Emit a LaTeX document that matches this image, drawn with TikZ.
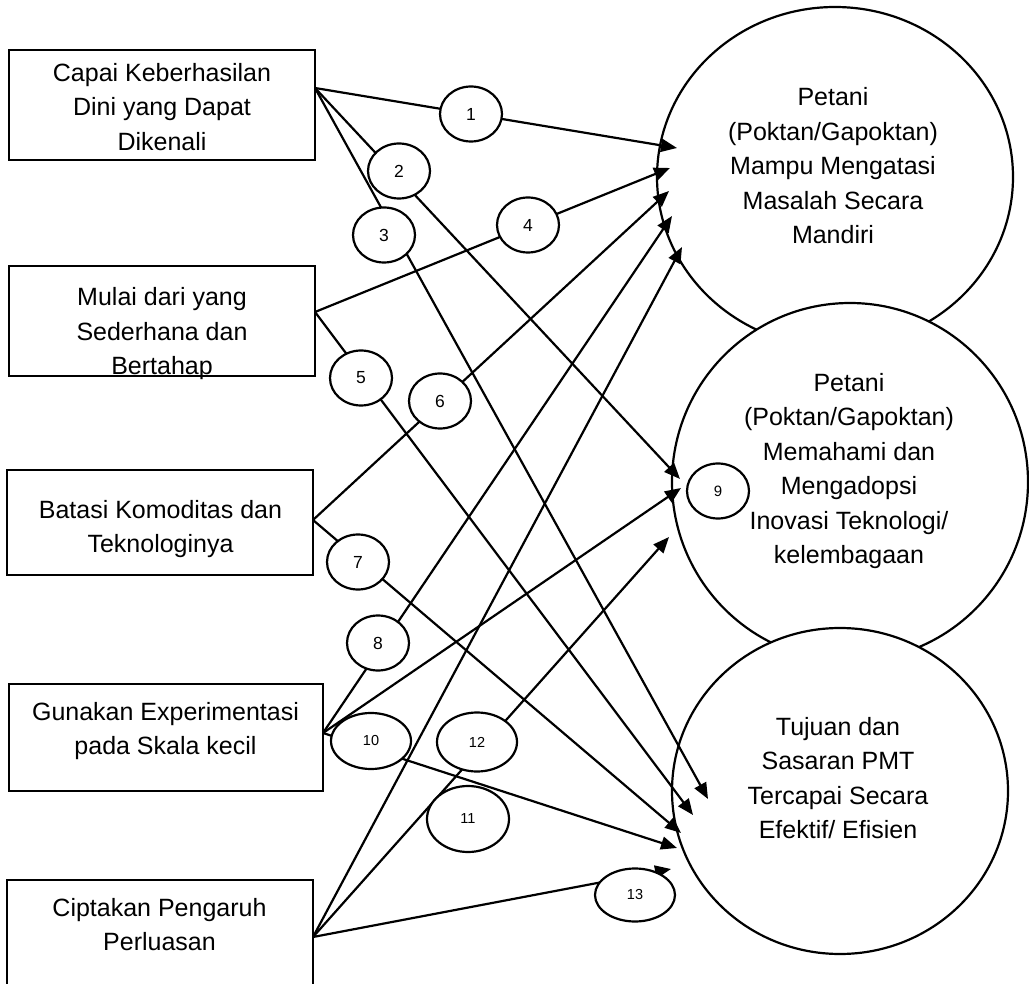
\documentclass[tikz,border=0pt]{standalone}
\usepackage{fontspec}
\setmainfont{Liberation Sans}
\usetikzlibrary{shapes.geometric,arrows.meta}
\begin{document}
\begin{tikzpicture}[x=1pt,y=-1pt,line width=2.2pt,
  box/.style={draw,rectangle,inner sep=0pt},
  boxtext/.style={align=center,inner sep=0pt,font=\fontsize{25}{34.5}\selectfont},
  goal/.style={draw,ellipse,fill=white,inner sep=0pt},
  num/.style={draw,ellipse,fill=white,inner sep=0pt,minimum width=62pt,minimum height=55pt,font=\fontsize{17.5}{20}\selectfont},
  numsmall/.style={num,font=\fontsize{14.5}{17}\selectfont},
  arr/.style={-{Triangle[length=16pt,width=13pt]}}
]
\useasboundingbox (0,0) rectangle (1029,984);
\clip (0,0) rectangle (1029,984);

% principle boxes
\node[box,minimum width=306pt,minimum height=110pt] (b1) at (162,105) {};
\node[box,minimum width=306pt,minimum height=110pt] (b2) at (162,321) {};
\node[box,minimum width=306pt,minimum height=105pt] (b3) at (160,522.5) {};
\node[box,minimum width=314pt,minimum height=107pt] (b4) at (166,737.5) {};
\node[box,minimum width=306pt,minimum height=130pt] (b5) at (160,945) {};
\node[boxtext] (b1t) at (162,107) {Capai Keberhasilan\\Dini yang Dapat\\Dikenali};
\node[boxtext] (b2t) at (162,334) {Mulai dari yang\\Sederhana dan\\Bertahap};
\node[boxtext] (b3t) at (160.5,529) {Batasi Komoditas dan\\Teknologinya};
\node[boxtext] (b4t) at (165.5,731) {Gunakan Experimentasi\\pada Skala kecil};
\node[boxtext] (b5t) at (159.5,924.5) {Ciptakan Pengaruh\\Perluasan};

% outcome circles
\node[goal,minimum width=356pt,minimum height=340pt] (c1) at (835,177) {};
\node[goal,minimum width=356pt,minimum height=358pt] (c2) at (850,482) {};
\node[goal,minimum width=336pt,minimum height=326pt] (c3) at (840,791) {};
\node[boxtext] (c1t) at (833,166) {Petani\\(Poktan/Gapoktan)\\Mampu Mengatasi\\Masalah Secara\\Mandiri};
\node[boxtext] (c2t) at (849,471) {Petani\\(Poktan/Gapoktan)\\Memahami dan\\Mengadopsi\\Inovasi Teknologi/\\kelembagaan};
\node[boxtext] (c3t) at (838,778) {Tujuan dan\\Sasaran PMT\\Tercapai Secara\\Efektif/ Efisien};

% connector ends on the box sides
\coordinate (s1) at (315,88);
\coordinate (s2) at (315,312);
\coordinate (s3) at (313,520);
\coordinate (s4) at (323,733);
\coordinate (s5) at (313,937);

% arrow tips at the circles
\coordinate (t1) at (677,148);
\coordinate (t2) at (680,479);
\coordinate (t3) at (708,799);
\coordinate (t4) at (670,168);
\coordinate (t5) at (693,815);
\coordinate (t6) at (669,191);
\coordinate (t7) at (681,833);
\coordinate (t8) at (672,216);
\coordinate (t9) at (681,488);
\coordinate (t10) at (677,848);
\coordinate (t11) at (682,247);
\coordinate (t12) at (669,537);
\coordinate (t13) at (671,869);

% connectors
\draw[arr] (s1) -- (t1);
\draw[arr] (s1) -- (t2);
\draw[arr] (s1) -- (t3);
\draw[arr] (s2) -- (t4);
\draw[arr] (s2) -- (t5);
\draw[arr] (s3) -- (t6);
\draw[arr] (s3) -- (t7);
\draw[arr] (s4) -- (t8);
\draw[arr] (s4) -- (t9);
\draw[arr] (s4) -- (t10);
\draw[arr] (s5) -- (t11);
\draw[arr] (s5) -- (t12);
\draw[arr] (s5) -- (t13);

% numbered labels
\node[num] (n1) at (471,114) {1};
\node[num] (n2) at (399,171) {2};
\node[num] (n3) at (384,235) {3};
\node[num] (n4) at (528,225) {4};
\node[num] (n5) at (361,378) {5};
\node[num] (n6) at (440,401) {6};
\node[num] (n7) at (358,562) {7};
\node[num] (n8) at (378,643) {8};
\node[numsmall,font=\fontsize{15}{18}\selectfont] (n9) at (718,491) {9};
\node[numsmall,minimum width=80pt,minimum height=56pt] (n10) at (371,741) {10};
\node[numsmall,minimum width=82pt,minimum height=66pt] (n11) at (468,819) {11};
\node[numsmall,minimum width=80pt,minimum height=59pt] (n12) at (477,742) {12};
\node[numsmall,minimum width=80pt,minimum height=53pt] (n13) at (635,895) {13};
\end{tikzpicture}
\end{document}
